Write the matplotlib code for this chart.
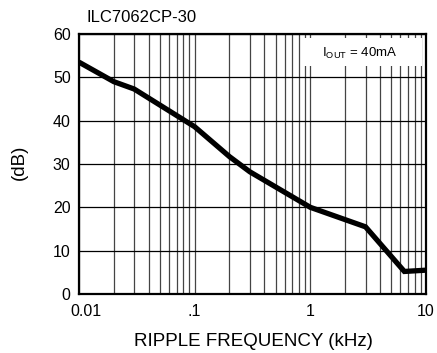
import matplotlib
matplotlib.use("Agg")
import matplotlib.pyplot as plt
import matplotlib.transforms as mtransforms
from matplotlib.ticker import LogLocator, FixedLocator, NullFormatter

plt.rcParams['font.family'] = ['Liberation Sans', 'DejaVu Sans']
plt.rcParams['mathtext.fontset'] = 'custom'
plt.rcParams['mathtext.rm'] = 'Liberation Sans'
plt.rcParams['mathtext.it'] = 'Liberation Sans'

# Ripple rejection vs. ripple frequency
freq_khz = [0.01, 0.02, 0.03, 0.1, 0.2, 0.3, 1.0, 3.0, 6.5, 10.0]
rejection_db = [53.5, 49.0, 47.3, 38.6, 31.7, 28.2, 20.0, 15.5, 5.2, 5.5]

x_ticks = [0.01, 0.1, 1, 10]
x_tick_labels = ["0.01", ".1", "1", "10"]
y_ticks = [0, 10, 20, 30, 40, 50, 60]

W, H = 437, 353
fig = plt.figure(figsize=(W / 100, H / 100), dpi=100)
ax = fig.add_axes([79 / W, 1 - 294 / H, (426 - 79) / W, (294 - 34) / H])

ax.set_xscale('log')
ax.set_xlim(0.01, 10)
ax.set_ylim(0, 60)

ax.xaxis.set_major_locator(FixedLocator(x_ticks))
ax.set_xticklabels(x_tick_labels)
ax.xaxis.set_minor_locator(LogLocator(base=10, subs=range(2, 10)))
ax.xaxis.set_minor_formatter(NullFormatter())
ax.set_yticks(y_ticks)

ax.tick_params(axis='both', which='both', length=0, labelsize=11.5)
ax.tick_params(axis='x', pad=7)
ax.tick_params(axis='y', pad=6)

ax.grid(True, which='major', axis='y', color='black', linewidth=0.9)
ax.grid(True, which='both', axis='x', color='#444444', linewidth=0.9)

for sp in ax.spines.values():
    sp.set_linewidth(1.6)
    sp.set_color('black')

ax.plot(freq_khz, rejection_db, color='black', linewidth=3.8,
        solid_joinstyle='miter', solid_capstyle='butt', zorder=3)

# shift the first x label right so it clears the y axis
lbl = ax.get_xticklabels()[0]
lbl.set_transform(lbl.get_transform() + mtransforms.ScaledTranslation(7 / 100, 0, fig.dpi_scale_trans))

# condition label on a white patch over the grid
ax.add_patch(plt.Rectangle((224 / 347, 1 - 32 / 260), 119 / 347, 28 / 260,
                           transform=ax.transAxes, facecolor='white',
                           edgecolor='none', zorder=2.5))
ax.text(0.81, 0.927, r'I$_{\mathrm{OUT}}$ = 40mA', transform=ax.transAxes,
        ha='center', va='center', fontsize=9.5, zorder=4)

fig.text(87 / W, 1 - 18 / H, 'ILC7062CP-30', ha='left', va='center', fontsize=12)
fig.text(253 / W, 1 - 341 / H, 'RIPPLE FREQUENCY (kHz)', ha='center', va='center', fontsize=13.5)
fig.text(19 / W, 1 - 162 / H, '(dB)', ha='center', va='center', rotation=90, fontsize=13.5)

fig.savefig('out.png', dpi=100)
